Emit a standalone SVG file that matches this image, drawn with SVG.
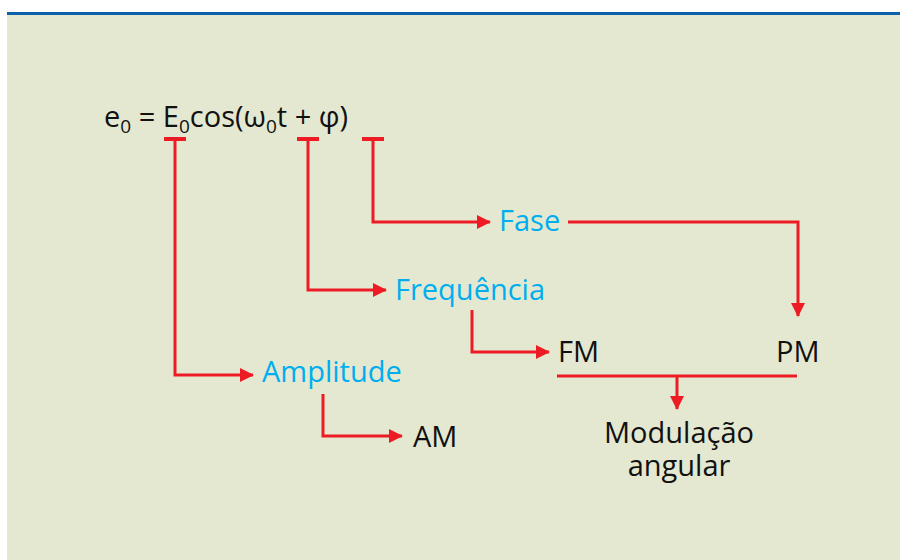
<svg xmlns="http://www.w3.org/2000/svg" width="900" height="560" viewBox="0 0 900 560">
<defs>
<style>
.t{font-family:"Open Sans","Noto Sans","Liberation Sans",sans-serif;font-size:29px}
.blue{fill:#00AEEF}
.blk{fill:#111111}
.c{fill:none;stroke:#ED1C24;stroke-width:3}
.bar{fill:none;stroke:#ED1C24;stroke-width:4}
.sub{font-size:19px}
</style>
<marker id="ah" markerWidth="14" markerHeight="14" viewBox="0 0 14 14" refX="13" refY="7" orient="auto" markerUnits="userSpaceOnUse">
<path d="M0,0 L14,7 L0,14 Z" fill="#ED1C24"/>
</marker>
</defs>
<rect x="0" y="0" width="900" height="560" fill="#FFFFFF"/>
<rect x="7" y="14" width="893" height="546" fill="#E4E8D0"/>
<rect x="7" y="12" width="893" height="3" fill="#0B62AA"/>

<g id="formula">
<text class="t blk" x="104" y="127">e<tspan class="sub" dy="6">0</tspan><tspan dy="-6"> = E</tspan><tspan class="sub" dy="6">0</tspan><tspan dy="-6">cos(ω</tspan><tspan class="sub" dy="6">0</tspan><tspan dy="-6">t + φ)</tspan></text>
</g>
<g id="fase"><text class="t blue" x="499" y="231">Fase</text></g>
<g id="frequencia"><text class="t blue" x="395" y="300">Frequência</text></g>
<g id="amplitude"><text class="t blue" x="262" y="382">Amplitude</text></g>
<g id="fm"><text class="t blk" x="558" y="362">FM</text></g>
<g id="pm"><text class="t blk" x="776" y="362">PM</text></g>
<g id="am"><text class="t blk" x="413" y="447">AM</text></g>
<g id="modulacao"><text class="t blk" text-anchor="middle" x="679" y="443">Modulação</text><text class="t blk" text-anchor="middle" x="679" y="476">angular</text></g>

<g id="connectors">
<path class="bar" d="M164,139 H186 M297,139 H319 M362,139 H384"/>
<path class="c" d="M175,139 V375 H253" marker-end="url(#ah)"/>
<path class="c" d="M308,139 V290 H386" marker-end="url(#ah)"/>
<path class="c" d="M373,139 V222 H490" marker-end="url(#ah)"/>
<path class="c" d="M568,222 H798 V316" marker-end="url(#ah)"/>
<path class="c" d="M472,310 V352 H549" marker-end="url(#ah)"/>
<path class="c" d="M323,394 V436 H402" marker-end="url(#ah)"/>
<path class="c" d="M557,376 H797"/>
<path class="c" d="M677,376 V409" marker-end="url(#ah)"/>
</g>
</svg>
